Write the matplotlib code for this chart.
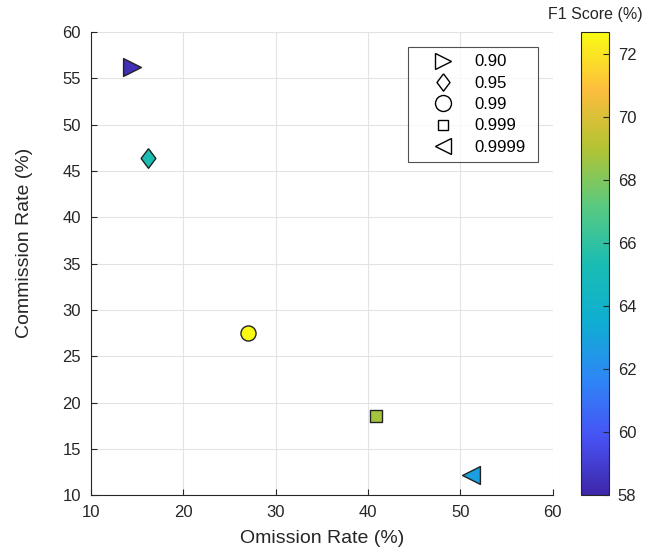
import matplotlib
matplotlib.use("Agg")
import matplotlib.pyplot as plt
from matplotlib.colors import LinearSegmentedColormap, Normalize
from matplotlib.lines import Line2D
import matplotlib.cm as cm

plt.rcParams['font.family'] = ['Liberation Sans', 'DejaVu Sans']

# Data
thresholds = ["0.90", "0.95", "0.99", "0.999", "0.9999"]
omission = [14.5, 16.2, 27.0, 40.9, 51.2]
commission = [56.2, 46.4, 27.5, 18.5, 12.2]
f1 = [58.4, 65.4, 72.7, 68.7, 62.8]
cb_ticks = [58, 60, 62, 64, 66, 68, 70, 72]

diamond = [(0, 1), (0.75, 0), (0, -1), (-0.75, 0), (0, 1)]
markers = [">", diamond, "o", "s", "<"]
plot_sizes = [165, 200, 118, 75, 165]
legend_ms = [11.5, 12.5, 11.5, 7.5, 11.5]

parula_pts = [
    (0.00, (0.2422, 0.1504, 0.6603)),
    (0.125, (0.2810, 0.3228, 0.9579)),
    (0.25, (0.1786, 0.5289, 0.9682)),
    (0.375, (0.0590, 0.6838, 0.8200)),
    (0.5, (0.1000, 0.7400, 0.7000)),
    (0.625, (0.3500, 0.7900, 0.5000)),
    (0.75, (0.7000, 0.7650, 0.2000)),
    (0.875, (0.9900, 0.7400, 0.2400)),
    (1.0, (0.9769, 0.9839, 0.0805)),
]
parula = LinearSegmentedColormap.from_list("parula", parula_pts)
norm = Normalize(vmin=58, vmax=72.7)

fig = plt.figure(figsize=(6.58, 5.49), dpi=100)
ax = fig.add_axes([0.138, 0.098, 0.702, 0.844])

for x, y, v, m, s in zip(omission, commission, f1, markers, plot_sizes):
    ax.scatter([x], [y], c=[v], cmap=parula, norm=norm, marker=m, s=s,
               edgecolors='#222222', linewidths=1.0, zorder=3)

ax.set_xlim(10, 60)
ax.set_ylim(10, 60)
ax.set_xticks(range(10, 61, 10))
ax.set_yticks(range(10, 61, 5))
ax.grid(True, color='#e3e3e3', linewidth=0.8)
ax.set_axisbelow(True)
for s in ['top', 'right']:
    ax.spines[s].set_visible(False)
for s in ['left', 'bottom']:
    ax.spines[s].set_color('#262626')
    ax.spines[s].set_linewidth(0.8)
ax.tick_params(direction='in', length=4, labelsize=12, colors='#262626', pad=7)
ax.set_xlabel("Omission Rate (%)", fontsize=14, color='#262626', labelpad=7)
ax.set_ylabel("Commission Rate (%)", fontsize=14, color='#262626')
ax.yaxis.set_label_coords(-0.125, 0.545)

handles = [Line2D([0], [0], marker=m, color='none', markerfacecolor='white',
                  markeredgecolor='black', markersize=ms, markeredgewidth=1.0)
           for m, ms in zip(markers, legend_ms)]
leg = ax.legend(handles, thresholds, loc='upper left',
                bbox_to_anchor=(0.686, 0.5, 0.2815, 0.4676), mode='expand',
                fontsize=12, frameon=True, fancybox=False, edgecolor='#262626',
                handletextpad=0.18, borderpad=0.45, labelspacing=0.38, handlelength=3.36,
                borderaxespad=0)
leg.get_frame().set_linewidth(0.8)

cax = fig.add_axes([0.883, 0.098, 0.043, 0.844])
sm = cm.ScalarMappable(cmap=parula, norm=norm)
cb = fig.colorbar(sm, cax=cax, ticks=cb_ticks)
cb.outline.set_edgecolor('#262626')
cb.outline.set_linewidth(0.8)
cax.tick_params(direction='in', length=4, labelsize=12, colors='#262626', pad=6)
cax.set_title("F1 Score (%)", fontsize=11.5, color='#262626', pad=9)

fig.savefig("out.png", dpi=100)
